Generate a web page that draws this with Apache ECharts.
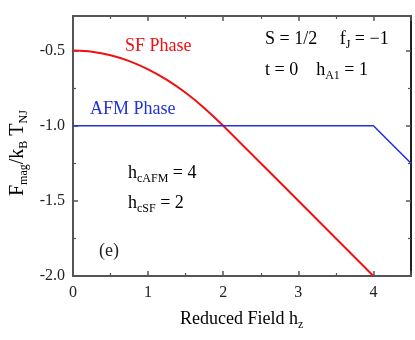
<!DOCTYPE html>
<html><head><meta charset="utf-8">
<script src="https://cdn.jsdelivr.net/npm/echarts@6/dist/echarts.min.js"></script>
<style>html,body{margin:0;padding:0;background:#fff}#c{width:415px;height:340px}</style>
</head><body><div id="c"></div>
<script>
const sfField = [0, 0.25, 0.5, 0.75, 1, 1.25, 1.5, 1.75, 2, 4];
const sfEnergy = [-0.5, -0.508, -0.531, -0.57, -0.625, -0.695, -0.781, -0.883, -1.0, -2.0];
const afmField = [0, 4, 4.5];
const afmEnergy = [-1.0, -1.0, -1.25];
const xTicks = [0, 1, 2, 3, 4];
const yTicks = [-2.0, -1.5, -1.0, -0.5];

const F = 'Liberation Serif';
const axisCol = '#555';
const chart = echarts.init(document.getElementById('c'));
const zip = (a, b) => a.map((v, i) => [v, b[i]]);
const baseAxis = {
  axisLine: {show: true, onZero: false, lineStyle: {color: axisCol, width: 2}},
  axisTick: {show: true, inside: true, length: 5, lineStyle: {color: axisCol, width: 1.5}},
  minorTick: {show: true, splitNumber: 2, length: 3, lineStyle: {color: axisCol, width: 1.2}},
  splitLine: {show: false},
};
const sub = {fontFamily: F, fontSize: 12, color: '#222', padding: [11, 0, 0, 0]};
const main = {fontFamily: F, fontSize: 18, color: '#222'};
chart.setOption({
  animation: false,
  grid: {left: 73, right: 4, top: 16, bottom: 64},
  xAxis: [
    Object.assign({}, baseAxis, {type: 'value', min: 0, max: 4.5, interval: 1, position: 'bottom',
      axisLabel: {show: true, fontFamily: F, fontSize: 16, color: '#222', margin: 9,
        formatter: v => xTicks.includes(v) ? String(v) : ''}}),
    Object.assign({}, baseAxis, {type: 'value', min: 0, max: 4.5, interval: 1, position: 'top',
      axisLabel: {show: false}})
  ],
  yAxis: [
    Object.assign({}, baseAxis, {type: 'value', min: -2, max: -0.27, interval: 0.5, position: 'left',
      axisLabel: {show: true, fontFamily: F, fontSize: 16, color: '#222', margin: 8,
        formatter: v => yTicks.some(t => Math.abs(t - v) < 1e-6) ? v.toFixed(1) : ''}}),
    Object.assign({}, baseAxis, {type: 'value', min: -2, max: -0.27, interval: 0.5, position: 'right',
      axisLine: {show: true, onZero: false, lineStyle: {color: '#222', width: 2}},
      axisLabel: {show: false}})
  ],
  series: [
    {type: 'line', data: zip(sfField, sfEnergy), smooth: 0.3, showSymbol: false,
      lineStyle: {color: '#f01010', width: 2}},
    {type: 'line', data: zip(afmField, afmEnergy), showSymbol: false,
      lineStyle: {color: '#2233dd', width: 1.5}}
  ],
  graphic: [
    {type: 'text', left: 125, top: 37, style: {text: 'SF Phase', fill: '#f01010', font: '18px "Liberation Serif"'}},
    {type: 'text', left: 90, top: 100, style: {text: 'AFM Phase', fill: '#2233dd', font: '18px "Liberation Serif"'}},
    {type: 'text', left: 265, top: 30, style: {text: '{m|S = 1/2     f}{s|J}{m| = −1}', rich: {m: main, s: sub}}},
    {type: 'text', left: 265, top: 61, style: {text: '{m|t = 0    h}{s|A1}{m| = 1}', rich: {m: main, s: sub}}},
    {type: 'text', left: 128, top: 164, style: {text: '{m|h}{s|cAFM}{m| = 4}', rich: {m: main, s: sub}}},
    {type: 'text', left: 128, top: 194, style: {text: '{m|h}{s|cSF}{m| = 2}', rich: {m: main, s: sub}}},
    {type: 'text', left: 99, top: 242, style: {text: '(e)', fill: '#222', font: '18px "Liberation Serif"'}},
    {type: 'text', left: 180, top: 310, style: {text: '{m|Reduced Field h}{s|z}', rich: {m: main, s: sub}}},
    {type: 'text', x: 5, y: 196, rotation: Math.PI / 2,
      style: {text: '{m|F}{s|mag}{m|/k}{s|B}{m| T}{s|NJ}', rich: {m: {fontFamily: F, fontSize: 20, color: '#222'}, s: {fontFamily: F, fontSize: 12, color: '#222', padding: [13, 0, 0, 0]}}}}
  ]
});
</script></body></html>
